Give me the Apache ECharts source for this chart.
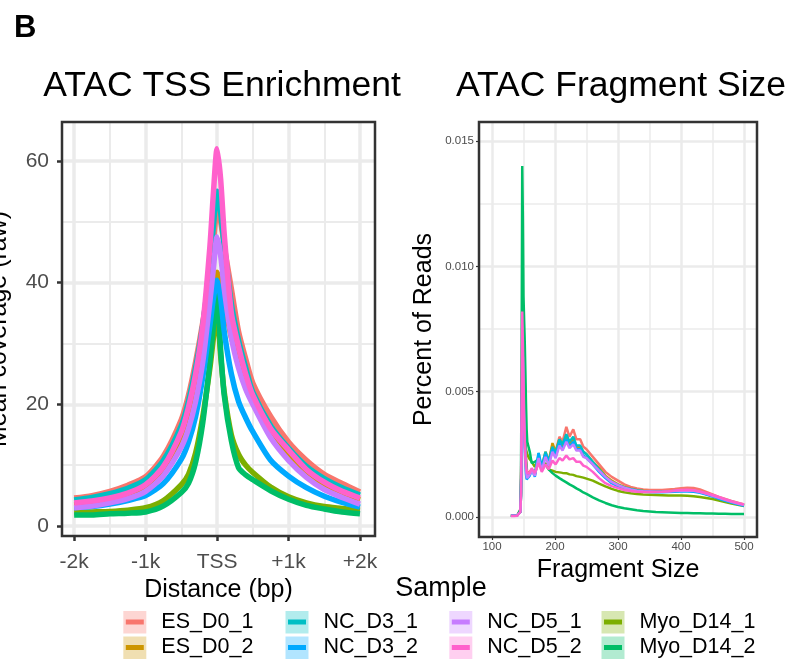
<!DOCTYPE html>
<html><head><meta charset="utf-8">
<script src="https://cdn.jsdelivr.net/npm/echarts@6/dist/echarts.min.js"></script>
<style>html,body{margin:0;padding:0;background:#fff}#c{width:804px;height:666px}</style>
</head><body><div id="c"></div>
<script>
// ---------- data ----------
const sampleNames = ['ES_D0_1','ES_D0_2','Myo_D14_1','Myo_D14_2','NC_D3_1','NC_D3_2','NC_D5_1','NC_D5_2'];
const sampleColors = ['#F8766D','#CD9600','#7CAE00','#00BE67','#00BFC4','#00A9FF','#C77CFF','#FF61CC'];
const legendColumns = [['ES_D0_1','ES_D0_2'],['NC_D3_1','NC_D3_2'],['NC_D5_1','NC_D5_2'],['Myo_D14_1','Myo_D14_2']];

// TSS enrichment profile (distance in bp, mean coverage)
const tssDistance = [-2000,-1750,-1500,-1250,-1000,-750,-500,-400,-300,-200,-100,-50,0,50,100,200,300,400,500,750,1000,1250,1500,1750,2000];
const tss_ES_D0_1   = [4.6,5.0,5.7,6.7,8.1,11.5,17.5,21.5,27,33.5,41,46.5,52,50,46,39,32,27.5,23.5,18,13.8,10.8,8.5,7,5.6];
const tss_ES_D0_2   = [3.5,3.8,4.3,5.0,6.2,8.8,14,17.5,22,28,36,39.5,41.7,40,37,31,27.5,23.5,20.5,15,11.5,8.6,6.6,5.3,4.3];
const tss_Myo_D14_1 = [2.2,2.3,2.4,2.6,3.0,4.2,6.8,8.5,12,18,26,31,35,28,22,15,11.8,10,8.8,6.4,4.8,3.8,3.2,2.9,2.6];
const tss_Myo_D14_2 = [1.8,1.8,2.0,2.1,2.3,3.3,5.5,7,10.5,17,27,33,38.5,29,21.5,14,9.6,8.4,7.6,5.8,4.4,3.4,2.8,2.3,2.0];
const tss_NC_D3_1   = [4.3,4.7,5.3,6.2,7.6,10.8,16.5,20.5,26,33,43,49.5,55,51.5,46,36.5,30.5,26,22,16.5,12.8,9.8,7.8,6.3,5.1];
const tss_NC_D3_2   = [3.0,3.2,3.6,4.2,5.0,7,11,13.8,18,24.5,33,37.5,40.4,37.5,32,25,20.5,17.8,15.5,10.8,8.2,6.3,4.9,3.9,3.1];
const tss_NC_D5_1   = [3.0,3.3,3.8,4.5,5.7,8.3,13,16,20.5,27,37,42.5,47.5,44.5,39,31,26,22.5,20,14.5,10.8,8,6,4.7,3.6];
const tss_NC_D5_2   = [3.8,4.1,4.6,5.4,6.8,9.8,15.5,19.5,25,33,46,55,62,57,48,35,29.5,25,21.5,16,12.5,9.3,7.2,5.7,4.6];

// Fragment size distribution (fragment size, fraction of reads)
const fragmentSize = [130,135,140,143,145,146,147,148,149,150,151,152,153,154,155,156,157,158,
  160,163,168,174,179,185,190,196,201,207,212,218,223,229,234,240,245,250,
  260,270,280,290,300,310,320,330,340,350,360,370,380,390,400,410,420,430,440,450,460,470,480,490,500];
const frag_ES_D0_1 = [0.00005,0.00005,0.00006,0.0001,0.0003,0.001,0.003,0.006,0.007,0.0055,0.0045,0.0038,0.003,0.0024,0.002,0.0018,0.0017,0.0017,
  0.0018,0.0019,0.0017,0.0023,0.0019,0.0025,0.0022,0.00285,0.0026,0.0032,0.003,0.0036,0.0032,0.0035,0.0031,0.0031,0.0028,0.0027,
  0.0024,0.0021,0.0018,0.0016,0.00145,0.0013,0.0012,0.00114,0.0011,0.00108,0.00108,0.00108,0.0011,0.00112,0.00115,0.00117,0.00116,0.0011,0.001,0.0009,0.0008,0.00072,0.00064,0.00057,0.0005];
const frag_ES_D0_2 = [0.00005,0.00005,0.00006,0.0001,0.0002,0.0008,0.0025,0.0055,0.0062,0.005,0.004,0.0032,0.0026,0.0022,0.0019,0.0017,0.0016,0.0016,
  0.0017,0.0019,0.0017,0.0024,0.002,0.0026,0.0022,0.00295,0.0026,0.0031,0.00285,0.0032,0.0029,0.0031,0.0028,0.0028,0.0026,0.0025,
  0.0022,0.00195,0.00165,0.00145,0.0013,0.0012,0.00113,0.00108,0.00105,0.00103,0.00102,0.00102,0.00103,0.00105,0.00106,0.00106,0.00105,0.001,0.00092,0.00084,0.00075,0.00068,0.0006,0.00053,0.00048];
const frag_Myo_D14_1 = [0.00005,0.00005,0.00006,0.0001,0.0002,0.001,0.0035,0.007,0.0075,0.006,0.0045,0.0035,0.003,0.0027,0.0026,0.0025,0.0025,0.0024,
  0.0023,0.0022,0.002,0.0023,0.00195,0.00215,0.0019,0.00185,0.0018,0.00178,0.00176,0.00175,0.0017,0.00168,0.00163,0.0016,0.00157,0.00153,
  0.00145,0.00133,0.00122,0.00112,0.00104,0.00099,0.00095,0.00092,0.0009,0.00089,0.00088,0.00087,0.00086,0.00086,0.00086,0.00085,0.00083,0.0008,0.00076,0.00072,0.00066,0.0006,0.00054,0.00049,0.00044];
const frag_Myo_D14_2 = [0.00005,0.00005,0.00006,0.0001,0.0003,0.0015,0.006,0.014,0.012,0.0088,0.0088,0.007,0.0058,0.0045,0.0035,0.003,0.00295,0.0028,
  0.0026,0.00215,0.0022,0.0023,0.00195,0.0021,0.0019,0.00175,0.00165,0.00155,0.00147,0.00138,0.0013,0.00122,0.00114,0.00106,0.00098,0.00092,
  0.00078,0.00066,0.00056,0.00047,0.0004,0.00035,0.00031,0.00027,0.00024,0.00022,0.0002,0.00019,0.00018,0.00017,0.00016,0.00016,0.00015,0.00015,0.00014,0.00014,0.00013,0.00013,0.00012,0.00012,0.00012];
const frag_NC_D3_1 = [0.00005,0.00005,0.00006,0.0001,0.0002,0.0009,0.0028,0.0058,0.0066,0.0052,0.0042,0.0034,0.0027,0.0022,0.0018,0.0016,0.00155,0.0016,
  0.0017,0.0019,0.0017,0.00255,0.002,0.0026,0.0022,0.0028,0.00255,0.0031,0.0029,0.0033,0.003,0.0032,0.00285,0.00285,0.0026,0.0025,
  0.0022,0.0019,0.0016,0.0014,0.00128,0.00118,0.00112,0.00107,0.00104,0.00102,0.00101,0.00101,0.00102,0.00104,0.00105,0.00106,0.00105,0.001,0.00092,0.00084,0.00075,0.00067,0.0006,0.00053,0.00047];
const frag_NC_D3_2 = [0.00005,0.00005,0.00006,0.0001,0.0002,0.0008,0.0026,0.0055,0.0062,0.0045,0.0035,0.0027,0.0021,0.0017,0.0015,0.00145,0.00148,0.00155,
  0.00165,0.0019,0.0016,0.00255,0.0019,0.0025,0.0021,0.0027,0.0024,0.00295,0.0027,0.0031,0.0028,0.003,0.0027,0.0027,0.00245,0.00235,
  0.0021,0.0018,0.00155,0.00135,0.00123,0.00114,0.00108,0.00104,0.00101,0.001,0.00099,0.00099,0.001,0.00101,0.00102,0.00102,0.00101,0.00097,0.0009,0.00082,0.00073,0.00065,0.00058,0.00051,0.00045];
const frag_NC_D5_1 = [0.00005,0.00005,0.00006,0.0001,0.0002,0.0008,0.0027,0.0056,0.0064,0.0048,0.0038,0.003,0.0024,0.0019,0.00165,0.00155,0.00155,0.0016,
  0.0017,0.00185,0.00165,0.00235,0.00185,0.0024,0.00205,0.0026,0.00235,0.00285,0.00265,0.003,0.00275,0.0029,0.00265,0.00265,0.0024,0.00235,
  0.0021,0.00185,0.0016,0.0014,0.00127,0.00117,0.0011,0.00105,0.00103,0.00102,0.00101,0.00101,0.00102,0.00104,0.00105,0.00106,0.00105,0.001,0.00093,0.00085,0.00077,0.00069,0.00061,0.00054,0.00048];
const frag_NC_D5_2 = [0.00004,0.00004,0.00005,0.0001,0.0002,0.001,0.004,0.0082,0.007,0.0055,0.004,0.003,0.0024,0.002,0.00185,0.00175,0.0017,0.0017,
  0.00175,0.00195,0.00175,0.00215,0.0018,0.0021,0.0019,0.00225,0.0021,0.00235,0.00225,0.00245,0.0023,0.00235,0.0022,0.0022,0.00205,0.002,
  0.0018,0.00155,0.00135,0.00123,0.00115,0.00108,0.00104,0.00101,0.001,0.001,0.001,0.00101,0.00103,0.00106,0.00108,0.00109,0.00107,0.00102,0.00095,0.00088,0.0008,0.00071,0.00063,0.00056,0.0005];

// tick labels
const tssTickValues = [-2000,-1000,0,1000,2000];
const tssTickLabels = ['-2k','-1k','TSS','+1k','+2k'];
const tssMinorValues = [-1500,-500,500,1500];
const covTickValues = [0,20,40,60];
const covTickLabels = ['0','20','40','60'];
const covMinorValues = [10,30,50];
const fragTickValues = [100,200,300,400,500];
const fragTickLabels = ['100','200','300','400','500'];
const fragMinorValues = [150,250,350,450];
const pctTickValues = [0,0.005,0.010,0.015];
const pctTickLabels = ['0.000','0.005','0.010','0.015'];
const pctMinorValues = [0.0025,0.0075,0.0125];

const tssSeries = [tss_ES_D0_1,tss_ES_D0_2,tss_Myo_D14_1,tss_Myo_D14_2,tss_NC_D3_1,tss_NC_D3_2,tss_NC_D5_1,tss_NC_D5_2];
const fragSeries = [frag_ES_D0_1,frag_ES_D0_2,frag_Myo_D14_1,frag_Myo_D14_2,frag_NC_D3_1,frag_NC_D3_2,frag_NC_D5_1,frag_NC_D5_2];

// ---------- chart ----------
const FONT = '"Liberation Sans", Arial, Helvetica, sans-serif';
const chart = echarts.init(document.getElementById('c'), null, {renderer:'canvas'});

function lookup(values, labels) {
  return function (v) {
    for (let i = 0; i < values.length; i++) if (Math.abs(values[i] - v) < 1e-9) return labels[i];
    return '';
  };
}
function rgba(hex, a) {
  const n = parseInt(hex.slice(1), 16);
  return 'rgba(' + ((n >> 16) & 255) + ',' + ((n >> 8) & 255) + ',' + (n & 255) + ',' + a + ')';
}

const P = {
  left:  {x: 62,  y: 122, w: 313, h: 414},
  right: {x: 479, y: 122, w: 278, h: 415}
};

function majorAxis(grid, min, max, vals, labs, o) {
  return {
    gridIndex: grid, type: 'value', min: min, max: max,
    axisLine: {show: false, onZero: false},
    axisTick: {show: true, customValues: vals, length: o.tickLen, lineStyle: {color: '#333333', width: o.tickW}},
    axisLabel: {customValues: vals, formatter: lookup(vals, labs), color: '#4D4D4D', fontSize: o.labelSize, margin: o.margin, fontFamily: FONT},
    splitLine: {show: true, lineStyle: {color: '#EBEBEB', width: o.gridW}},
    name: o.name, nameLocation: 'middle', nameGap: o.nameGap,
    nameTextStyle: {fontSize: o.nameSize, color: '#000', fontFamily: FONT}
  };
}
function minorAxis(grid, min, max, vals, w) {
  return {
    gridIndex: grid, type: 'value', min: min, max: max,
    axisLine: {show: false, onZero: false}, axisLabel: {show: false},
    axisTick: {show: false, customValues: vals},
    splitLine: {show: true, lineStyle: {color: '#EBEBEB', width: w}}
  };
}

const xAxes = [
  majorAxis(0, -2170, 2210, tssTickValues, tssTickLabels, {tickLen: 5, tickW: 2.5, labelSize: 21, margin: 16, gridW: 3.5, name: 'Distance (bp)', nameGap: 37, nameSize: 25}),
  minorAxis(0, -2170, 2210, tssMinorValues, 2),
  majorAxis(1, 79.4, 520.6, fragTickValues, fragTickLabels, {tickLen: 3, tickW: 1.2, labelSize: 11.5, margin: 4, gridW: 2.5, name: 'Fragment Size', nameGap: 15, nameSize: 25}),
  minorAxis(1, 79.4, 520.6, fragMinorValues, 1.5)
];
const yAxes = [
  majorAxis(0, -1.64, 66.4, covTickValues, covTickLabels, {tickLen: 5, tickW: 2.5, labelSize: 21, margin: 13, gridW: 3.5, name: 'Mean coverage (raw)', nameGap: 50, nameSize: 25}),
  minorAxis(0, -1.64, 66.4, covMinorValues, 2),
  majorAxis(1, -0.000798, 0.015758, pctTickValues, pctTickLabels, {tickLen: 3, tickW: 1.2, labelSize: 11.5, margin: 5, gridW: 2.5, name: 'Percent of Reads', nameGap: 42, nameSize: 25}),
  minorAxis(1, -0.000798, 0.015758, pctMinorValues, 1.5)
];

const series = [];
sampleNames.forEach(function (name, k) {
  series.push({
    type: 'line', name: name, xAxisIndex: 0, yAxisIndex: 0,
    data: tssDistance.map(function (d, i) { return [d, tssSeries[k][i]]; }),
    symbol: 'none', smooth: 0.25, lineStyle: {width: 5.5, color: sampleColors[k]},
    itemStyle: {color: sampleColors[k]}, emphasis: {disabled: true}
  });
});
sampleNames.forEach(function (name, k) {
  series.push({
    type: 'line', name: name, xAxisIndex: 2, yAxisIndex: 2,
    data: fragmentSize.map(function (s, i) { return [s, fragSeries[k][i]]; }),
    symbol: 'none', lineStyle: {width: 2.5, color: sampleColors[k]},
    itemStyle: {color: sampleColors[k]}, emphasis: {disabled: true}
  });
});

const legendLefts = [125.8, 288, 451.8, 604];
const legendTop = 611;
const legends = legendColumns.map(function (names, c) {
  return {
    data: names, orient: 'vertical', left: legendLefts[c], top: legendTop,
    padding: 0, itemGap: 3.5, itemWidth: 18, itemHeight: 5, icon: 'rect', selectedMode: false,
    textStyle: {fontSize: 21.5, color: '#000', fontFamily: FONT, padding: [0, 0, 0, 12.5], lineHeight: 22}
  };
});

const graphics = [];
legendColumns.forEach(function (names, c) {
  names.forEach(function (n, r) {
    const col = sampleColors[sampleNames.indexOf(n)];
    graphics.push({type: 'rect', left: legendLefts[c] - 2.5, top: legendTop + r * 25.5, z: -1, silent: true,
      shape: {width: 23, height: 22.5}, style: {fill: rgba(col, 0.3)}});
  });
});
// panel borders
[P.left, P.right].forEach(function (p) {
  graphics.push({type: 'rect', z: 100, silent: true, shape: {x: p.x, y: p.y, width: p.w, height: p.h},
    style: {fill: 'none', stroke: '#333333', lineWidth: 2.5}});
});
graphics.push({type: 'text', z: 100, left: 14, top: 13, style: {text: 'B', font: 'bold 31px ' + FONT, fill: '#000'}});
graphics.push({type: 'text', z: 100, x: 222, y: 86, style: {text: 'ATAC TSS Enrichment', font: '35.5px ' + FONT, fill: '#000', textAlign: 'center', textVerticalAlign: 'middle'}});
graphics.push({type: 'text', z: 100, x: 621, y: 86, style: {text: 'ATAC Fragment Size', font: '35.5px ' + FONT, fill: '#000', textAlign: 'center', textVerticalAlign: 'middle'}});
graphics.push({type: 'text', z: 100, x: 441, y: 589, style: {text: 'Sample', font: '27px ' + FONT, fill: '#000', textAlign: 'center', textVerticalAlign: 'middle'}});

chart.setOption({
  animation: false,
  backgroundColor: '#fff',
  textStyle: {fontFamily: FONT},
  grid: [
    {left: P.left.x, top: P.left.y, width: P.left.w, height: P.left.h, show: false, containLabel: false, outerBoundsMode: 'none'},
    {left: P.right.x, top: P.right.y, width: P.right.w, height: P.right.h, show: false, containLabel: false, outerBoundsMode: 'none'}
  ],
  xAxis: xAxes, yAxis: yAxes,
  legend: legends,
  series: series,
  graphic: graphics
});
</script></body></html>
